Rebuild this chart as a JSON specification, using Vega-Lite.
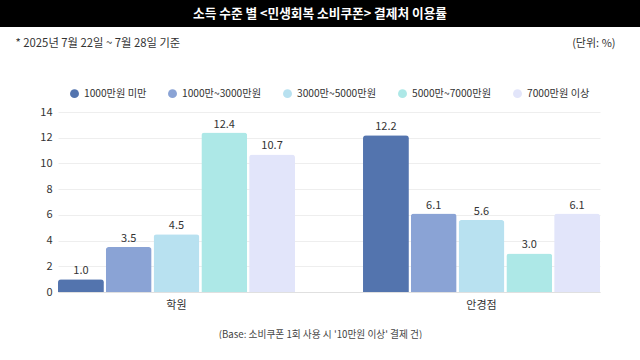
{
  "$schema": "https://vega.github.io/schema/vega-lite/v6.json",
  "padding": 0,
  "background": "white",
  "spacing": 10,
  "config": {"font": "Noto Sans CJK KR", "view": {"stroke": null}},
  "resolve": {"scale": {"color": "independent"}, "legend": {"color": "independent"}},
  "vconcat": [
    {
      "width": 640,
      "height": 27,
      "view": {"fill": "#000000", "stroke": null},
      "data": {"values": [{"t": "소득 수준 별 <민생회복 소비쿠폰> 결제처 이용률"}]},
      "mark": {"type": "text", "color": "white", "fontSize": 12.7, "fontWeight": "bold", "align": "center", "baseline": "middle"},
      "encoding": {"text": {"field": "t"}}
    },
    {
      "spacing": 0,
      "resolve": {"scale": {"color": "independent"}, "legend": {"color": "independent"}},
      "hconcat": [
        {
          "width": 15,
          "height": 1,
          "data": {"values": [{"t": ""}]},
          "mark": {"type": "rect", "opacity": 0},
          "encoding": {}
        },
        {
          "width": 542,
          "height": 180,
          "data": {
            "values": [
              {"place": "학원", "income": "1000만원 미만", "value": 1.0},
              {"place": "학원", "income": "1000만~3000만원", "value": 3.5},
              {"place": "학원", "income": "3000만~5000만원", "value": 4.5},
              {"place": "학원", "income": "5000만~7000만원", "value": 12.4},
              {"place": "학원", "income": "7000만원 이상", "value": 10.7},
              {"place": "안경점", "income": "1000만원 미만", "value": 12.2},
              {"place": "안경점", "income": "1000만~3000만원", "value": 6.1},
              {"place": "안경점", "income": "3000만~5000만원", "value": 5.6},
              {"place": "안경점", "income": "5000만~7000만원", "value": 3.0},
              {"place": "안경점", "income": "7000만원 이상", "value": 6.1}
            ]
          },
          "encoding": {
            "x": {
              "field": "place", "type": "nominal", "sort": ["학원", "안경점"],
              "scale": {"paddingInner": 0.223, "paddingOuter": 0},
              "axis": {
                "title": "(Base: 소비쿠폰 1회 사용 시 '10만원 이상' 결제 건)",
                "labelAngle": 0, "domainColor": "#e0e0e0", "ticks": false, "labelPadding": 7,
                "labelFontSize": 11, "labelColor": "#333333",
                "titleFontSize": 9.7, "titleFontWeight": "normal", "titleColor": "#444444",
                "titleX": 262, "titleY": 42, "titleAlign": "center", "titleBaseline": "middle"
              }
            },
            "xOffset": {
              "field": "income", "type": "nominal",
              "sort": ["1000만원 미만", "1000만~3000만원", "3000만~5000만원", "5000만~7000만원", "7000만원 이상"],
              "scale": {"paddingInner": 0.04}
            }
          },
          "layer": [
            {
              "mark": {"type": "bar", "cornerRadiusTopLeft": 3, "cornerRadiusTopRight": 3},
              "encoding": {
                "y": {
                  "field": "value", "type": "quantitative", "scale": {"domain": [0, 14]},
                  "axis": {
                    "values": [0, 2, 4, 6, 8, 10, 12, 14], "grid": true, "gridColor": "#eeeeee",
                    "domain": false, "ticks": false, "labelPadding": 6, "labelFontSize": 11, "labelColor": "#333333",
                    "title": "* 2025년 7월 22일 ~ 7월 28일 기준", "titleAngle": 0, "titleAlign": "left",
                    "titleBaseline": "middle", "titleX": -43, "titleY": -69, "titleFontSize": 11.3,
                    "titleFontWeight": "normal", "titleColor": "#333333"
                  }
                },
                "color": {
                  "field": "income", "type": "nominal",
                  "sort": ["1000만원 미만", "1000만~3000만원", "3000만~5000만원", "5000만~7000만원", "7000만원 이상"],
                  "scale": {
                    "domain": ["1000만원 미만", "1000만~3000만원", "3000만~5000만원", "5000만~7000만원", "7000만원 이상"],
                    "range": ["#5374ae", "#8aa3d5", "#b8e1f0", "#ade8e7", "#e2e5fa"]
                  },
                  "legend": {
                    "orient": "top", "direction": "horizontal", "title": null, "symbolType": "circle",
                    "symbolSize": 80, "labelFontSize": 10.2, "labelColor": "#333333", "columnPadding": 20,
                    "labelOffset": 4, "offset": 2, "padding": 11
                  }
                }
              }
            },
            {
              "mark": {"type": "text", "dy": -8, "fontSize": 11, "color": "#333333"},
              "encoding": {
                "y": {
                  "field": "value", "type": "quantitative", "scale": {"domain": [0, 14]},
                  "axis": {
                    "orient": "right", "grid": false, "labels": false, "ticks": false, "domain": false,
                    "title": "(단위: %)", "titleAngle": 0, "titleAlign": "right", "titleBaseline": "middle",
                    "titleX": 15, "titleY": -69, "titleFontSize": 11, "titleFontWeight": "normal", "titleColor": "#333333"
                  }
                },
                "text": {"field": "value", "type": "quantitative", "format": ".1f"}
              }
            }
          ],
          "resolve": {"scale": {"y": "independent"}, "axis": {"y": "independent"}}
        }
      ]
    }
  ]
}
